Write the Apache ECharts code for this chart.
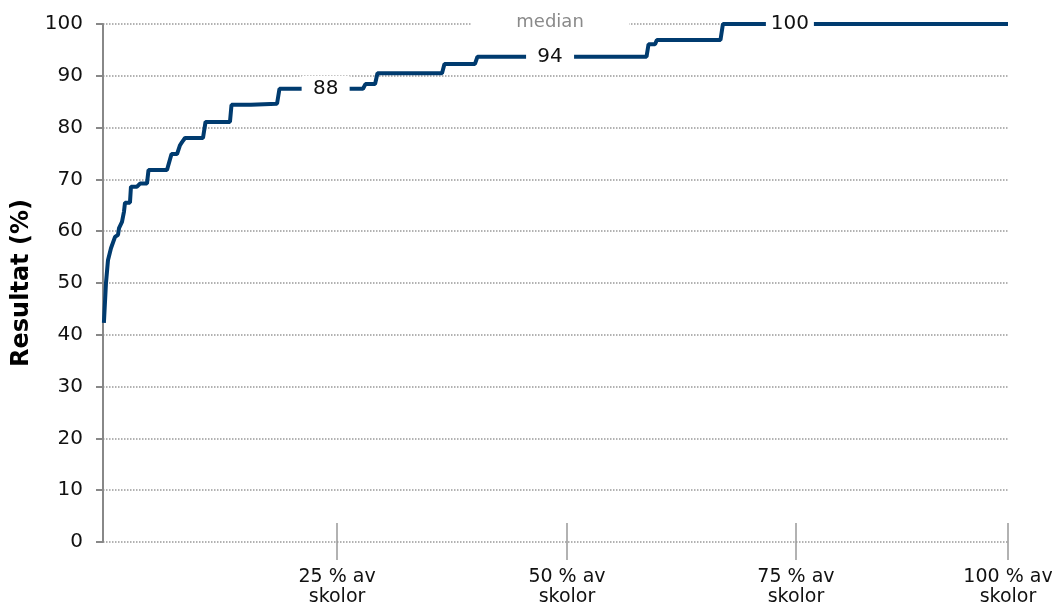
<!DOCTYPE html>
<html>
<head>
<meta charset="utf-8">
<script src="https://cdn.jsdelivr.net/npm/echarts@6/dist/echarts.min.js"></script>
<style>html,body{margin:0;padding:0;background:#fff}#c{width:1052px;height:606px}</style>
</head>
<body>
<div id="c"></div>
<script>
// Share of schools (% of x-axis span) and result (%)
const schoolPct = [0.1, 0.33, 0.55, 0.88, 1.33, 1.66, 1.77, 2.1, 2.32, 2.43, 2.98, 3.09, 3.76, 4.09, 4.86, 5.03, 7.07, 7.57, 8.18, 8.51, 8.73, 9.06, 11.05, 11.33, 14.03, 14.2, 16.35, 16.52, 19.23, 19.5, 28.73, 29.0, 30.06, 30.33, 37.46, 37.73, 41.1, 41.38, 60.06, 60.28, 61.0, 61.2, 68.23, 68.5, 100];
const result    = [42.3, 50, 54.4, 56.7, 58.9, 59.3, 60.6, 61.8, 63.8, 65.5, 65.5, 68.6, 68.6, 69.2, 69.2, 71.8, 71.8, 74.9, 74.9, 76.6, 77.2, 78.0, 78.0, 81.1, 81.1, 84.4, 84.4, 84.6, 84.6, 87.5, 87.5, 88.4, 88.4, 90.5, 90.5, 92.3, 92.3, 93.7, 93.7, 96.1, 96.1, 96.9, 96.9, 100, 100];

const tickPos = [25.86, 51.27, 76.57, 100];
const tickLabels = ['25 % av\nskolor', '50 % av\nskolor', '75 % av\nskolor', '100 % av\nskolor'];

const quartileX = [24.6, 49.4, 75.9];
const quartileY = [87.5, 93.7, 100];
const quartileText = ['88', '94', '100'];

const medianX = 49.4;
const medianY = 100;
const medianText = 'median';

const chart = echarts.init(document.getElementById('c'));
const font = 'DejaVu Sans, Verdana, sans-serif';
const xBase = {
  type: 'value', min: 0, max: 100, gridIndex: 0, position: 'bottom',
  axisLine: { show: false }, splitLine: { show: false }
};
chart.setOption({
  animation: false,
  grid: { left: 103, right: 44, top: 24, bottom: 64, containLabel: false, outerBoundsMode: 'none' },
  xAxis: [
    Object.assign({}, xBase, {
      axisTick: { show: true, length: 18, customValues: tickPos, lineStyle: { color: '#999', width: 1.5 } },
      axisLabel: {
        customValues: tickPos, margin: 25, color: '#111', fontFamily: font, fontSize: 19, lineHeight: 20,
        formatter: function (v) { const i = tickPos.indexOf(v); return i >= 0 ? tickLabels[i] : ''; }
      }
    }),
    Object.assign({}, xBase, {
      axisTick: { show: true, inside: true, length: 19, customValues: tickPos, lineStyle: { color: '#999', width: 1.5 } },
      axisLabel: { show: false }
    })
  ],
  yAxis: {
    type: 'value', min: 0, max: 100, interval: 10,
    name: 'Resultat (%)', nameLocation: 'middle', nameGap: 68,
    nameTextStyle: { fontFamily: font, fontSize: 24, fontWeight: 'bold', color: '#000' },
    axisLine: { show: true, lineStyle: { color: '#888', width: 2 } },
    axisTick: { show: true, length: 7, lineStyle: { color: '#888', width: 2 } },
    axisLabel: { margin: 20, color: '#111', fontFamily: font, fontSize: 20 },
    splitLine: { show: true, lineStyle: { color: '#999', type: 'dotted', width: 1.5 } }
  },
  series: [
    {
      type: 'line', xAxisIndex: 0, showSymbol: false, symbol: 'none',
      data: schoolPct.map((x, i) => [x, result[i]]),
      lineStyle: { color: '#003b6f', width: 4 }, z: 2
    },
    {
      type: 'scatter', xAxisIndex: 0, symbol: 'rect', symbolSize: [48, 26],
      itemStyle: { color: '#fff', opacity: 1 }, z: 5, silent: true,
      emphasis: { disabled: true },
      data: quartileX.map((x, i) => ({ value: [x, quartileY[i]], name: quartileText[i] })),
      label: { show: true, position: 'inside', formatter: '{b}', color: '#111', fontFamily: font, fontSize: 20 }
    },
    {
      type: 'scatter', xAxisIndex: 0, symbol: 'rect', symbolSize: [158, 20], symbolOffset: [0, -2],
      itemStyle: { color: '#fff', opacity: 1 }, z: 5, silent: true,
      emphasis: { disabled: true },
      data: [{ value: [medianX, medianY], name: medianText }],
      label: { show: true, position: 'inside', formatter: '{b}', color: '#8a8a8a', fontFamily: font, fontSize: 18 }
    }
  ]
});
</script>
</body>
</html>
